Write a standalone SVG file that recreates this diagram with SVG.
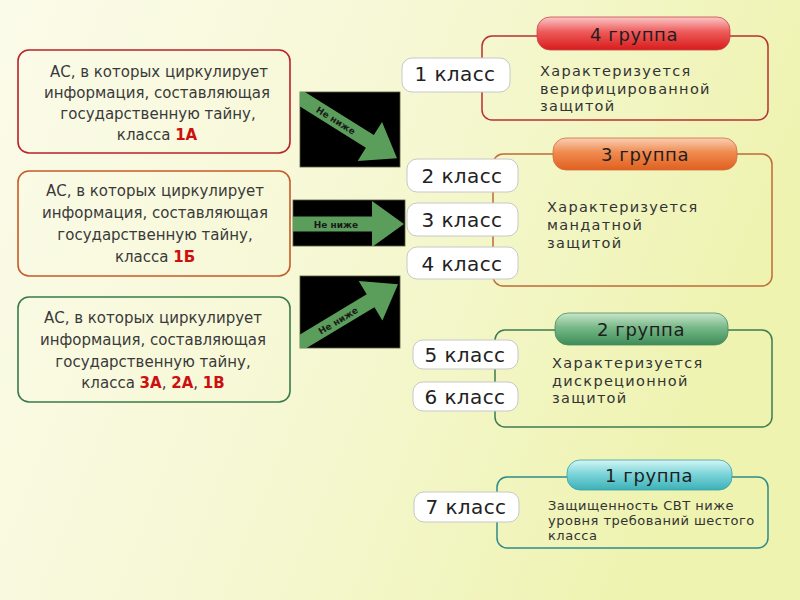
<svg xmlns="http://www.w3.org/2000/svg" width="800" height="600" viewBox="0 0 800 600">
<defs>
<linearGradient id="bg" x1="0" y1="0" x2="1" y2="0.3">
<stop offset="0" stop-color="#fbfbea"/>
<stop offset="0.5" stop-color="#f6f8d4"/>
<stop offset="1" stop-color="#eef3b0"/>
</linearGradient>
<linearGradient id="gRed" x1="0" y1="0" x2="0" y2="1">
<stop offset="0" stop-color="#fbc8c8"/>
<stop offset="0.45" stop-color="#ee5a5a"/>
<stop offset="1" stop-color="#d81c1c"/>
</linearGradient>
<linearGradient id="gOrange" x1="0" y1="0" x2="0" y2="1">
<stop offset="0" stop-color="#f9d0b4"/>
<stop offset="0.45" stop-color="#f08a50"/>
<stop offset="1" stop-color="#e0601e"/>
</linearGradient>
<linearGradient id="gGreen" x1="0" y1="0" x2="0" y2="1">
<stop offset="0" stop-color="#c8e6cc"/>
<stop offset="0.45" stop-color="#78b888"/>
<stop offset="1" stop-color="#3c8c58"/>
</linearGradient>
<linearGradient id="gTeal" x1="0" y1="0" x2="0" y2="1">
<stop offset="0" stop-color="#d4f6f6"/>
<stop offset="0.45" stop-color="#7ed6da"/>
<stop offset="1" stop-color="#3cb0b8"/>
</linearGradient>
<clipPath id="c1"><rect x="300" y="92" width="100" height="75"/></clipPath>
<clipPath id="c2"><rect x="293" y="200" width="112" height="46"/></clipPath>
<clipPath id="c3"><rect x="300" y="276" width="100" height="72"/></clipPath>
<polygon id="arr" points="-40,-7.5 80,-7.5 80,-23 112,0 80,23 80,7.5 -40,7.5"/>
</defs>
<style>
.lbox{fill:none;stroke-width:1.6}
.ltxt{font-family:"DejaVu Sans","Noto Sans",sans-serif;font-size:15px;fill:#3a3a3a;text-anchor:middle}
.red{fill:#cc1010;font-weight:bold}
.frame{fill:none;stroke-width:1.5}
.pill{fill:#ffffff;stroke:#c8c8c8;stroke-width:1}
.ptxt{font-family:"DejaVu Sans","Noto Sans",sans-serif;font-size:20px;fill:#222;text-anchor:middle;letter-spacing:0.4px}
.htxt{font-family:"DejaVu Sans","Noto Sans",sans-serif;font-size:18px;fill:#1e1e1e;text-anchor:middle;letter-spacing:0.6px}
.dtxt{font-family:"DejaVu Sans","Noto Sans",sans-serif;font-size:14.5px;fill:#333;letter-spacing:1.3px}
.stxt{font-family:"DejaVu Sans","Noto Sans",sans-serif;font-size:13px;fill:#333;letter-spacing:0.5px}
.panel{fill:#000;stroke:#5a5a40;stroke-width:0.8}
.arrow{fill:#5b9e5b}
.atxt{font-family:"DejaVu Sans","Liberation Sans",sans-serif;font-size:9px;font-weight:bold;fill:#1a1a1a;text-anchor:middle}
</style>
<rect x="0" y="0" width="800" height="600" fill="url(#bg)"/>

<g id="node-as-1a">
<rect class="lbox" x="18" y="50" width="272" height="103" rx="11" stroke="#b8222a"/>
<text class="ltxt" x="159" y="77">АС, в которых циркулирует</text>
<text class="ltxt" x="157" y="98">информация, составляющая</text>
<text class="ltxt" x="158" y="119">государственную тайну,</text>
<text class="ltxt" x="157" y="140">класса <tspan class="red">1А</tspan></text>
</g>
<g id="node-as-1b">
<rect class="lbox" x="18" y="171" width="272" height="105" rx="11" stroke="#c65a28"/>
<text class="ltxt" x="155" y="196">АС, в которых циркулирует</text>
<text class="ltxt" x="155" y="218">информация, составляющая</text>
<text class="ltxt" x="155" y="240">государственную тайну,</text>
<text class="ltxt" x="155" y="262">класса <tspan class="red">1Б</tspan></text>
</g>
<g id="node-as-3a">
<rect class="lbox" x="18" y="297" width="272" height="105" rx="11" stroke="#3a7a4a"/>
<text class="ltxt" x="153" y="323">АС, в которых циркулирует</text>
<text class="ltxt" x="153" y="345">информация, составляющая</text>
<text class="ltxt" x="153" y="367">государственную тайну,</text>
<text class="ltxt" x="153" y="388">класса <tspan class="red">3А</tspan>, <tspan class="red">2А</tspan>, <tspan class="red">1В</tspan></text>
</g>

<g id="connectors">
<g id="arrow-1">
<rect class="panel" x="300" y="92" width="100" height="75"/>
<g clip-path="url(#c1)">
<g transform="translate(302,99) rotate(32)">
<use href="#arr" class="arrow"/>
<text class="atxt" x="40" y="3.5">Не ниже</text>
</g>
</g>
</g>
<g id="arrow-2">
<rect class="panel" x="293" y="200" width="112" height="46"/>
<g clip-path="url(#c2)">
<g transform="translate(292,224)">
<use href="#arr" class="arrow"/>
<text class="atxt" x="44" y="3.5">Не ниже</text>
</g>
</g>
</g>
<g id="arrow-3">
<rect class="panel" x="300" y="276" width="100" height="72"/>
<g clip-path="url(#c3)">
<g transform="translate(302,342) rotate(-31)">
<use href="#arr" class="arrow"/>
<text class="atxt" x="42" y="3.5">Не ниже</text>
</g>
</g>
</g>
</g>

<g id="group-4">
<rect class="frame" x="482" y="36" width="286" height="84" rx="10" stroke="#b83030"/>
<rect x="537" y="17" width="193" height="33" rx="13" fill="url(#gRed)" stroke="#c84848" stroke-width="0.8"/>
<text class="htxt" x="634" y="41">4 группа</text>
<text class="dtxt" x="540" y="76">Характеризуется</text>
<text class="dtxt" x="540" y="94">верифицированной</text>
<text class="dtxt" x="540" y="111">защитой</text>
</g>
<g id="class-1">
<rect class="pill" x="402" y="58" width="108" height="34" rx="10"/>
<text class="ptxt" x="455" y="81">1 класс</text>
</g>

<g id="group-3">
<rect class="frame" x="493" y="154" width="279" height="132" rx="10" stroke="#c06a38"/>
<rect x="553" y="138" width="184" height="32" rx="13" fill="url(#gOrange)" stroke="#d07040" stroke-width="0.8"/>
<text class="htxt" x="645" y="161">3 группа</text>
<text class="dtxt" x="547" y="212">Характеризуется</text>
<text class="dtxt" x="547" y="230">мандатной</text>
<text class="dtxt" x="547" y="248">защитой</text>
</g>
<g id="class-2">
<rect class="pill" x="407" y="159" width="111" height="33" rx="10"/>
<text class="ptxt" x="462" y="183">2 класс</text>
</g>
<g id="class-3">
<rect class="pill" x="407" y="203" width="111" height="33" rx="10"/>
<text class="ptxt" x="462" y="227">3 класс</text>
</g>
<g id="class-4">
<rect class="pill" x="407" y="247" width="111" height="32" rx="10"/>
<text class="ptxt" x="462" y="271">4 класс</text>
</g>

<g id="group-2">
<rect class="frame" x="495" y="330" width="277" height="97" rx="10" stroke="#3e7c50"/>
<rect x="555" y="313" width="173" height="32" rx="13" fill="url(#gGreen)" stroke="#4a8a5c" stroke-width="0.8"/>
<text class="htxt" x="641" y="336">2 группа</text>
<text class="dtxt" x="552" y="368">Характеризуется</text>
<text class="dtxt" x="552" y="386">дискреционной</text>
<text class="dtxt" x="552" y="403">защитой</text>
</g>
<g id="class-5">
<rect class="pill" x="413" y="340" width="105" height="29" rx="10"/>
<text class="ptxt" x="465" y="362">5 класс</text>
</g>
<g id="class-6">
<rect class="pill" x="413" y="382" width="105" height="29" rx="10"/>
<text class="ptxt" x="465" y="404">6 класс</text>
</g>

<g id="group-1">
<rect class="frame" x="497" y="477" width="271" height="71" rx="10" stroke="#2e8a8a"/>
<rect x="567" y="460" width="165" height="30" rx="13" fill="url(#gTeal)" stroke="#3aa0a8" stroke-width="0.8"/>
<text class="htxt" x="649" y="482">1 группа</text>
<text class="stxt" x="548" y="510">Защищенность СВТ ниже</text>
<text class="stxt" x="548" y="525">уровня требований шестого</text>
<text class="stxt" x="548" y="540">класса</text>
</g>
<g id="class-7">
<rect class="pill" x="414" y="492" width="105" height="30" rx="10"/>
<text class="ptxt" x="466" y="514">7 класс</text>
</g>
</svg>
